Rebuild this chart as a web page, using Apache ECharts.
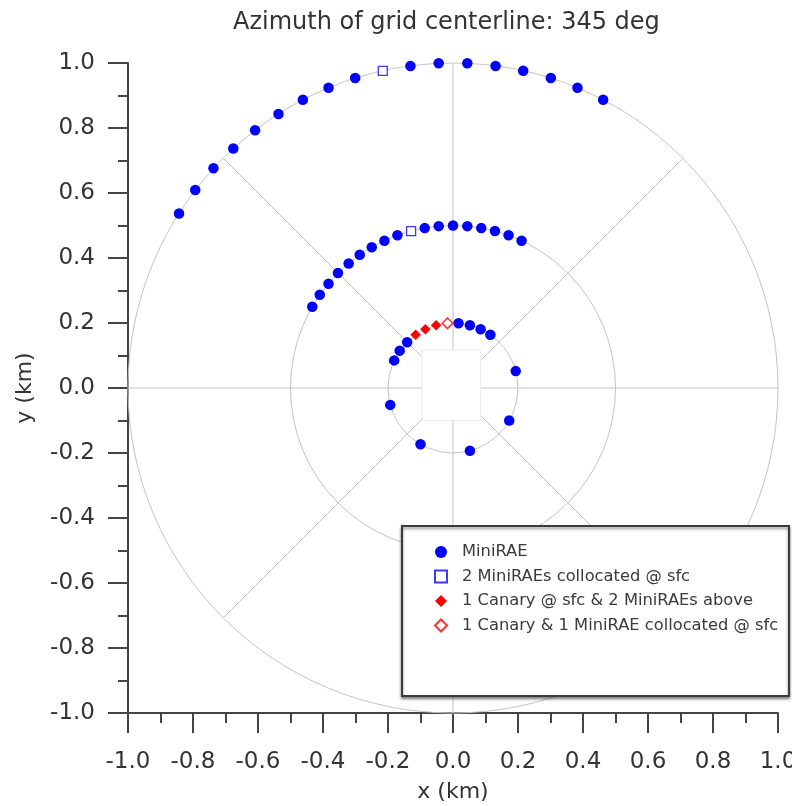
<!DOCTYPE html>
<html>
<head>
<meta charset="utf-8">
<script src="https://cdn.jsdelivr.net/npm/echarts@6/dist/echarts.min.js"></script>
<style>html,body{margin:0;padding:0;background:#fff}#c{width:792px;height:806px}</style>
</head>
<body>
<div id="c"></div>
<script>
// ---- data (km) ----
var titleText = 'Azimuth of grid centerline: 345 deg';
var xTicks = [-1.0, -0.8, -0.6, -0.4, -0.2, 0.0, 0.2, 0.4, 0.6, 0.8, 1.0];
var yTicks = [-1.0, -0.8, -0.6, -0.4, -0.2, 0.0, 0.2, 0.4, 0.6, 0.8, 1.0];
var ringRadii = [0.2, 0.5, 1.0];
var spokeAngles = [0, 45, 90, 135, 180, 225, 270, 315];
var centerBox = [[-0.095, 0.117, 0.085, -0.100]];

var seriesNames = ['MiniRAE', '2 MiniRAEs collocated @ sfc', '1 Canary @ sfc & 2 MiniRAEs above', '1 Canary & 1 MiniRAE collocated @ sfc'];

var miniRAE = [
  // outer arc
  [-0.843, 0.537], [-0.793, 0.609], [-0.737, 0.676], [-0.676, 0.737], [-0.609, 0.793], [-0.537, 0.843],
  [-0.462, 0.887], [-0.383, 0.924], [-0.301, 0.954], [-0.131, 0.991], [-0.044, 0.999],
  [0.044, 0.999], [0.131, 0.991], [0.216, 0.976], [0.301, 0.954], [0.383, 0.924], [0.462, 0.887],
  // middle arc
  [-0.433, 0.250], [-0.410, 0.287], [-0.383, 0.321], [-0.354, 0.354], [-0.321, 0.383], [-0.287, 0.410],
  [-0.250, 0.433], [-0.211, 0.453], [-0.171, 0.470], [-0.087, 0.492], [-0.044, 0.498], [0.000, 0.500],
  [0.044, 0.498], [0.087, 0.492], [0.129, 0.483], [0.171, 0.470], [0.211, 0.453],
  // inner ring
  [0.017, 0.199], [0.052, 0.193], [0.085, 0.181], [0.115, 0.164], [0.193, 0.052], [0.173, -0.100],
  [0.052, -0.193], [-0.100, -0.173], [-0.193, -0.052], [-0.181, 0.085], [-0.164, 0.115], [-0.141, 0.141]
];
var collocated = [[-0.216, 0.976], [-0.129, 0.483]];
var canaryAbove = [[-0.115, 0.164], [-0.085, 0.181], [-0.052, 0.193]];
var canaryCollocated = [[-0.017, 0.199]];

var FONT = 'DejaVu Sans';
var chart = echarts.init(document.getElementById('c'), null, {renderer: 'canvas'});

function axisCommon(name) {
  return {
    type: 'value', min: -1, max: 1, interval: 0.2,
    name: name, nameLocation: 'middle',
    nameTextStyle: {fontFamily: FONT, fontSize: 22, color: '#333'},
    axisLine: {show: true, onZero: false, lineStyle: {color: '#444', width: 2}},
    axisTick: {show: true, inside: false, length: 20, lineStyle: {color: '#444', width: 2}},
    minorTick: {show: true, splitNumber: 2, length: 10, lineStyle: {color: '#444', width: 2}},
    splitLine: {show: false},
    minorSplitLine: {show: false},
    axisLabel: {fontFamily: FONT, fontSize: 23, color: '#333', hideOverlap: false,
      formatter: function (v) { return v.toFixed(1); }}
  };
}
var xAx = axisCommon('x (km)');
xAx.nameGap = 68;
xAx.axisLabel.margin = 38;
var yAx = axisCommon('y (km)');
yAx.nameGap = 92;
yAx.axisLabel.margin = 33;

var gridColor = '#c4c4c4';

chart.setOption({
  animation: false,
  backgroundColor: '#fff',
  title: {
    text: titleText, left: 228, top: 6,
    textStyle: {fontFamily: FONT, fontSize: 24, fontWeight: 'normal', color: '#333'}
  },
  grid: {left: 128, top: 63, width: 650, height: 650, containLabel: false, outerBoundsMode: 'none'},
  xAxis: xAx,
  yAxis: yAx,
  graphic: [{
    type: 'rect', z: 5, left: 401, top: 525,
    shape: {width: 387, height: 170},
    style: {fill: '#fff', stroke: '#3a3a3a', lineWidth: 2,
      shadowBlur: 3, shadowOffsetX: 0, shadowOffsetY: 2, shadowColor: 'rgba(0,0,0,0.45)'}
  }],
  legend: {
    z: 6, orient: 'vertical', left: 429, top: 539, padding: 5,
    itemWidth: 12, itemHeight: 12, itemGap: 8.5,
    textStyle: {fontFamily: FONT, fontSize: 16.3, lineHeight: 16, color: '#3a3a3a', padding: [0, 0, 0, 10]},
    data: [
      {name: seriesNames[0], icon: 'circle'},
      {name: seriesNames[1], icon: 'rect'},
      {name: seriesNames[2], icon: 'diamond'},
      {name: seriesNames[3], icon: 'diamond'}
    ]
  },
  series: [
    {
      type: 'custom', name: 'rings', silent: true, z: 1, clip: false,
      data: ringRadii.map(function (r) { return [0, 0, r]; }),
      renderItem: function (params, api) {
        var c = api.coord([0, 0]);
        var s = api.size([api.value(2), api.value(2)]);
        return {type: 'circle', shape: {cx: c[0], cy: c[1], r: s[0]},
          style: {fill: 'none', stroke: gridColor, lineWidth: 1}};
      }
    },
    {
      type: 'custom', name: 'spokes', silent: true, z: 1, clip: false,
      data: spokeAngles.map(function (a) { return [0, 0, a]; }),
      renderItem: function (params, api) {
        var a = api.value(2) * Math.PI / 180;
        var p0 = api.coord([0, 0]);
        var p1 = api.coord([Math.sin(a), Math.cos(a)]);
        return {type: 'line', shape: {x1: p0[0], y1: p0[1], x2: p1[0], y2: p1[1]},
          style: {stroke: gridColor, lineWidth: 1}};
      }
    },
    {
      type: 'custom', name: 'centerBox', silent: true, z: 2, clip: false,
      data: centerBox,
      renderItem: function (params, api) {
        var a = api.coord([api.value(0), api.value(1)]);
        var b = api.coord([api.value(2), api.value(3)]);
        return {type: 'rect', shape: {x: a[0], y: a[1], width: b[0] - a[0], height: b[1] - a[1]},
          style: {fill: '#fff', stroke: '#ececec', lineWidth: 1}};
      }
    },
    {
      type: 'scatter', name: seriesNames[0], z: 3, data: miniRAE,
      symbol: 'circle', symbolSize: 10.5,
      itemStyle: {color: '#0000ff', opacity: 1}
    },
    {
      type: 'scatter', name: seriesNames[1], z: 3, data: collocated,
      symbol: 'rect', symbolSize: 9,
      itemStyle: {color: '#ffffff', borderColor: '#3a3aff', borderWidth: 1.3, opacity: 1}
    },
    {
      type: 'scatter', name: seriesNames[2], z: 3, data: canaryAbove,
      symbol: 'diamond', symbolSize: 10.5,
      itemStyle: {color: '#ff0000', opacity: 1}
    },
    {
      type: 'scatter', name: seriesNames[3], z: 3, data: canaryCollocated,
      symbol: 'diamond', symbolSize: 10.5,
      itemStyle: {color: '#ffffff', borderColor: '#ff3030', borderWidth: 1.5, opacity: 1}
    }
  ]
});
</script>
</body>
</html>
